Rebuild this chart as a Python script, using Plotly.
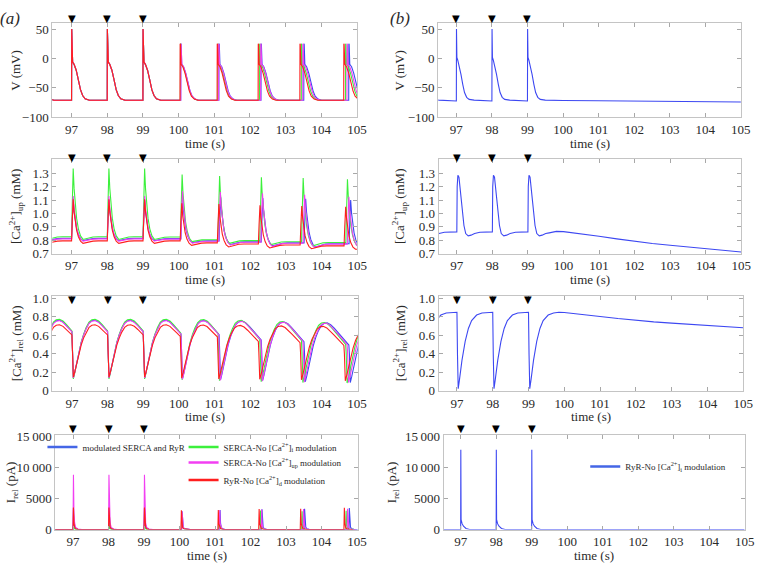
import numpy as np
import plotly.graph_objects as go

W, H = 766, 570
FONT = "Liberation Serif, Times New Roman, Times, serif"

# ---------------- values ----------------
X_TICKS = [97, 98, 99, 100, 101, 102, 103, 104, 105]
STIM_TIMES = [97.0, 98.0, 99.0]
V_TICKS = [-100, -50, 0, 50]
V_TICKTEXT = ["\u2212100", "\u221250", "0", "50"]
CAUP_TICKS = [0.7, 0.8, 0.9, 1.0, 1.1, 1.2, 1.3]
CAUP_TICKTEXT = ["0.7", "0.8", "0.9", "1.0", "1.1", "1.2", "1.3"]
CAREL_TICKS = [0, 0.2, 0.4, 0.6, 0.8, 1.0]
CAREL_TICKTEXT = ["0", "0.2", "0.4", "0.6", "0.8", "1.0"]
IREL_TICKS = [0, 5000, 10000, 15000]
IREL_TICKTEXT = ["0", "5000", "10\u2009000", "15\u2009000"]

SERIES_NAMES = [
    "modulated SERCA and RyR",
    "SERCA-No [Ca<sup>2+</sup>]<sub>i</sub> modulation",
    "SERCA-No [Ca<sup>2+</sup>]<sub>up</sub> modulation",
    "RyR-No [Ca<sup>2+</sup>]<sub>d</sub> modulation",
]
B_SERIES_NAME = "RyR-No [Ca<sup>2+</sup>]<sub>i</sub> modulation"

# (a) beat onsets (s): 4 paced beats (96 s lies just left of the window) + 5 spontaneous
ONSET_BLUE = [96.0, 97.0, 98.0, 99.0, 100.06, 101.13, 102.31, 103.51, 104.77]
ONSET_GREEN = [96.0, 97.0, 98.0, 99.0, 100.05, 101.10, 102.27, 103.44, 104.68]
ONSET_MAGENTA = [96.0, 97.0, 98.0, 99.0, 100.06, 101.12, 102.30, 103.48, 104.72]
ONSET_RED = [96.0, 97.0, 98.0, 99.0, 100.04, 101.08, 102.23, 103.40, 104.63]
N_PACED = 4

# (a) membrane potential waveform (mV) after each onset
V_PACED_DT = [0.004, 0.03, 0.07, 0.13, 0.19, 0.25, 0.31, 0.38, 0.5]
V_PACED_MV = [50, -6, -10, -20, -36, -53, -63, -68.5, -71.0]
V_SPONT_DT = [0.004, 0.012, 0.03, 0.08, 0.14, 0.2, 0.26, 0.32, 0.4, 0.5]
V_SPONT_MV = [25, 24, -10, -14, -25, -40, -55, -64, -69, -71.0]

# (a) [Ca2+]up (mM): pre-beat level, peak and trough of every beat
CAUP_BASE_BLUE = [0.814, 0.814, 0.814, 0.814, 0.812, 0.795, 0.788, 0.780, 0.774]
CAUP_PEAK_BLUE = [1.10, 1.10, 1.10, 1.10, 1.12, 1.12, 1.115, 1.11, 1.10]
CAUP_TROUGH_BLUE = [0.797, 0.797, 0.797, 0.797, 0.782, 0.768, 0.758, 0.750, 0.750]
CAUP_BASE_GREEN = [0.826, 0.826, 0.826, 0.826, 0.824, 0.804, 0.797, 0.789, 0.783]
CAUP_PEAK_GREEN = [1.335, 1.335, 1.335, 1.335, 1.29, 1.28, 1.27, 1.265, 1.255]
CAUP_TROUGH_GREEN = [0.806, 0.806, 0.806, 0.806, 0.790, 0.777, 0.767, 0.758, 0.760]
CAUP_BASE_MAGENTA = [0.810, 0.810, 0.810, 0.810, 0.808, 0.792, 0.785, 0.777, 0.771]
CAUP_PEAK_MAGENTA = [1.13, 1.13, 1.13, 1.13, 1.165, 1.16, 1.15, 1.14, 1.125]
CAUP_TROUGH_MAGENTA = [0.794, 0.794, 0.794, 0.794, 0.779, 0.765, 0.755, 0.747, 0.748]
CAUP_BASE_RED = [0.795, 0.795, 0.795, 0.795, 0.795, 0.780, 0.772, 0.764, 0.758]
CAUP_PEAK_RED = [1.105, 1.105, 1.105, 1.105, 1.075, 1.07, 1.06, 1.055, 1.05]
CAUP_TROUGH_RED = [0.777, 0.777, 0.777, 0.777, 0.762, 0.750, 0.742, 0.737, 0.733]
CAUP_RISE_DT = [0.02, 0.045]
CAUP_RISE_F = [0.5, 1.0]
CAUP_DECAY_DT = [0.07, 0.1, 0.14, 0.19, 0.25, 0.32]
CAUP_DECAY_F = [0.72, 0.5, 0.3, 0.15, 0.05, 0.0]
CAUP_RECOV_DT = [0.45, 0.6, 0.75]
CAUP_RECOV_F = [0.5, 0.9, 1.0]

# (a) [Ca2+]rel (mM): dome top and minimum of every beat
CAREL_TOP_BLUE = [0.765, 0.765, 0.765, 0.765, 0.762, 0.755, 0.745, 0.735, 0.725]
CAREL_MIN_BLUE = [0.14, 0.14, 0.14, 0.14, 0.13, 0.12, 0.11, 0.10, 0.09]
CAREL_TOP_GREEN = [0.775, 0.775, 0.775, 0.775, 0.772, 0.762, 0.75, 0.74, 0.73]
CAREL_MIN_GREEN = [0.13, 0.13, 0.13, 0.13, 0.12, 0.11, 0.10, 0.09, 0.085]
CAREL_TOP_MAGENTA = [0.76, 0.76, 0.76, 0.76, 0.758, 0.752, 0.742, 0.733, 0.723]
CAREL_MIN_MAGENTA = [0.14, 0.14, 0.14, 0.14, 0.125, 0.115, 0.105, 0.095, 0.09]
CAREL_TOP_RED = [0.715, 0.715, 0.715, 0.715, 0.713, 0.708, 0.703, 0.698, 0.693]
CAREL_MIN_RED = [0.15, 0.15, 0.15, 0.15, 0.14, 0.13, 0.125, 0.12, 0.11]
CAREL_DT = [0.015, 0.04, 0.08, 0.13, 0.19, 0.26, 0.33, 0.4, 0.48, 0.56, 0.65,
            0.75, 0.85, 0.95, 1.05, 1.15, 1.25, 1.35]
CAREL_F = [0.5, 0.0, 0.1, 0.26, 0.44, 0.61, 0.75, 0.86, 0.95, 0.99, 1.0,
           0.97, 0.91, 0.84, 0.77, 0.7, 0.63, 0.56]

# (a) Irel (pA): spike peak of every beat
IREL_PEAK_BLUE = [3400, 3400, 3400, 3400, 2950, 3150, 3250, 3350, 3450]
IREL_PEAK_GREEN = [750, 750, 750, 750, 2800, 2900, 3050, 2950, 3000]
IREL_PEAK_MAGENTA = [8800, 8800, 8800, 8800, 2900, 3100, 3200, 3300, 3350]
IREL_PEAK_RED = [3550, 3550, 3550, 3550, 3080, 3150, 3280, 3350, 3500]
IREL_DT = [0.0, 0.012, 0.026, 0.045, 0.075, 0.14, 0.25]
IREL_F = [0.0, 1.0, 0.3, 0.12, 0.04, 0.01, 0.0]

# (b) single series, paced beats only
ONSET_B = [96.0, 97.0, 98.0, 99.0]
V_B_DT = [0.004, 0.015, 0.04, 0.08, 0.13, 0.18, 0.23, 0.29, 0.36, 0.5, 0.75, 0.99]
V_B_MV = [50, 2, -3, -13, -27, -44, -58, -66, -69.5, -70.8, -71.6, -72.2]
V_B_TAIL_T = [100.0, 101.0, 102.0, 103.0, 104.0, 105.0]
V_B_TAIL_MV = [-71.3, -71.9, -72.5, -73.0, -73.5, -74.0]
CAUP_B_DT = [0.01, 0.03, 0.06, 0.1, 0.15, 0.2, 0.25, 0.32, 0.4, 0.5, 0.65, 0.8]
CAUP_B_MM = [1.2, 1.285, 1.27, 1.17, 1.04, 0.91, 0.85, 0.833, 0.838, 0.85, 0.86, 0.862]
CAUP_B_TAIL_T = [99.6, 99.8, 100.0, 100.5, 101.0, 101.5, 102.0, 102.5, 103.0,
                 103.5, 104.0, 104.5, 105.0]
CAUP_B_TAIL_MM = [0.855, 0.866, 0.864, 0.848, 0.83, 0.81, 0.792, 0.776, 0.762,
                  0.749, 0.737, 0.724, 0.712]
CAREL_B_DT = [0.015, 0.035, 0.07, 0.14, 0.23, 0.32, 0.41, 0.55, 0.7, 0.85]
CAREL_B_MM = [0.4, 0.025, 0.12, 0.33, 0.535, 0.675, 0.76, 0.82, 0.843, 0.85]
CAREL_B_TAIL_T = [99.7, 99.85, 100.0, 100.5, 101.0, 101.5, 102.0, 102.5, 103.0,
                  103.5, 104.0, 104.5, 105.0]
CAREL_B_TAIL_MM = [0.843, 0.85, 0.848, 0.83, 0.805, 0.782, 0.762, 0.746, 0.733,
                   0.72, 0.708, 0.695, 0.682]
IREL_B_DT = [0.0, 0.004, 0.012, 0.04, 0.08, 0.15, 0.25, 0.4]
IREL_B_PA = [0, 12800, 1600, 950, 550, 180, 20, 0]
IREL_B_TAIL_T = [100.0, 105.0]
IREL_B_TAIL_PA = [0, 0]

# ---------------- styling ----------------
BLUE = "#3d48f2"
GREEN = "#3cf03c"
MAGENTA = "#f23ff2"
RED = "#ff1e1e"
LEGEND_BLUE = "#4466e6"
FRAME = "#c4c4c4"
TXT = "#2a2a2a"
T_END_DRAW = 105.8


def build(onsets, shape_fn):
    xs, ys = [], []
    for i, t0 in enumerate(onsets):
        dts, vals = shape_fn(i)
        lim = (onsets[i + 1] - t0) if i + 1 < len(onsets) else (T_END_DRAW - t0)
        for d, v in zip(dts, vals):
            if d < lim:
                xs.append(t0 + d)
                ys.append(v)
        if i + 1 < len(onsets):
            xs.append(onsets[i + 1])
            ys.append(float(np.interp(lim, dts, vals)))
    return xs, ys


def v_shape_a(i):
    return (V_PACED_DT, V_PACED_MV) if i < N_PACED else (V_SPONT_DT, V_SPONT_MV)


def caup_shape(base, peak, trough):
    def fn(i):
        b0, pk, tr = base[i], peak[i], trough[i]
        b1 = base[i + 1] if i + 1 < len(base) else tr
        dts = CAUP_RISE_DT + CAUP_DECAY_DT + CAUP_RECOV_DT
        vals = ([b0 + f * (pk - b0) for f in CAUP_RISE_F]
                + [tr + f * (pk - tr) for f in CAUP_DECAY_F]
                + [tr + g * (b1 - tr) for g in CAUP_RECOV_F])
        return dts, vals
    return fn


def carel_shape(top, mn):
    def fn(i):
        return CAREL_DT, [mn[i] + f * (top[i] - mn[i]) for f in CAREL_F]
    return fn


def irel_shape(peak):
    def fn(i):
        return IREL_DT, [peak[i] * f for f in IREL_F]
    return fn


def b_shape(dts, vals, tail_t, tail_v):
    def fn(i):
        if i < len(ONSET_B) - 1:
            return dts, vals
        t0 = ONSET_B[i]
        cut = tail_t[0] - t0
        d2 = [d for d in dts if d < cut] + [t - t0 for t in tail_t]
        v2 = [v for d, v in zip(dts, vals) if d < cut] + list(tail_v)
        return d2, v2
    return fn


SERIES_A = [
    (BLUE, ONSET_BLUE, CAUP_BASE_BLUE, CAUP_PEAK_BLUE, CAUP_TROUGH_BLUE,
     CAREL_TOP_BLUE, CAREL_MIN_BLUE, IREL_PEAK_BLUE),
    (GREEN, ONSET_GREEN, CAUP_BASE_GREEN, CAUP_PEAK_GREEN, CAUP_TROUGH_GREEN,
     CAREL_TOP_GREEN, CAREL_MIN_GREEN, IREL_PEAK_GREEN),
    (MAGENTA, ONSET_MAGENTA, CAUP_BASE_MAGENTA, CAUP_PEAK_MAGENTA, CAUP_TROUGH_MAGENTA,
     CAREL_TOP_MAGENTA, CAREL_MIN_MAGENTA, IREL_PEAK_MAGENTA),
    (RED, ONSET_RED, CAUP_BASE_RED, CAUP_PEAK_RED, CAUP_TROUGH_RED,
     CAREL_TOP_RED, CAREL_MIN_RED, IREL_PEAK_RED),
]

fig = go.Figure()
LW = 1.1


def add_line(xy, color, ax):
    x, y = xy
    fig.add_trace(go.Scatter(x=x, y=y, mode="lines", line=dict(color=color, width=LW),
                             xaxis="x" + ax, yaxis="y" + ax, showlegend=False,
                             hoverinfo="skip"))


for color, on, cb, cp, ct, rt, rm, ip in SERIES_A:
    add_line(build(on, v_shape_a), color, "")
    add_line(build(on, caup_shape(cb, cp, ct)), color, "2")
    add_line(build(on, carel_shape(rt, rm)), color, "3")
    add_line(build(on, irel_shape(ip)), color, "4")

add_line(build(ONSET_B, b_shape(V_B_DT, V_B_MV, V_B_TAIL_T, V_B_TAIL_MV)), BLUE, "5")
add_line(build(ONSET_B, b_shape(CAUP_B_DT, CAUP_B_MM, CAUP_B_TAIL_T, CAUP_B_TAIL_MM)), BLUE, "6")
add_line(build(ONSET_B, b_shape(CAREL_B_DT, CAREL_B_MM, CAREL_B_TAIL_T, CAREL_B_TAIL_MM)), BLUE, "7")
add_line(build(ONSET_B, b_shape(IREL_B_DT, IREL_B_PA, IREL_B_TAIL_T, IREL_B_TAIL_PA)), BLUE, "8")

# legend entries (one legend box per entry so each can sit where the reference has it)
LEG_COLORS = [LEGEND_BLUE, GREEN, MAGENTA, RED]
LEG_IDS = ["legend", "legend2", "legend3", "legend4"]
for name, c, lg in zip(SERIES_NAMES, LEG_COLORS, LEG_IDS):
    fig.add_trace(go.Scatter(x=[None], y=[None], mode="lines", name=name,
                             line=dict(color=c, width=2.5), xaxis="x4", yaxis="y4",
                             legend=lg, showlegend=True))
fig.add_trace(go.Scatter(x=[None], y=[None], mode="lines", name=B_SERIES_NAME,
                         line=dict(color=LEGEND_BLUE, width=2.5), xaxis="x8", yaxis="y8",
                         legend="legend5", showlegend=True))
LEG_IDS = LEG_IDS + ["legend5"]
# (x of legend box, y of entry centre) in px
LEG_POS = [(43, 448), (186, 448), (186, 464), (186, 482), (593, 468)]

# ---------------- layout ----------------
# (axis suffix, left, right, top, bottom px, x range, y range, ticks, ticktext, title, title x, tri y)
PANELS = [
    ("", 53, 362, 16, 113.3, [96.46, 105.01], [-100, 61], V_TICKS, V_TICKTEXT,
     "V (mV)", 16, 11.7),
    ("2", 53, 362, 156, 253.3, [96.46, 105.0], [0.7, 1.407], CAUP_TICKS, CAUP_TICKTEXT,
     "[Ca<sup>2+</sup>]<sub>up</sub> (mM)", 16, 154.5),
    ("3", 53, 362.5, 297, 394.3, [96.45, 105.02], [0, 1.024], CAREL_TICKS, CAREL_TICKTEXT,
     "[Ca<sup>2+</sup>]<sub>rel</sub> (mM)", 16, 300),
    ("4", 56, 362.5, 440, 536.7, [96.5, 105.02], [0, 15100], IREL_TICKS, IREL_TICKTEXT,
     "I<sub>rel</sub> (pA)", 12, 433.3),
    ("5", 444, 751, 16, 113.3, [96.49, 105.01], [-100, 61], V_TICKS, V_TICKTEXT,
     "V (mV)", 405, 11.7),
    ("6", 444.5, 751, 156, 253.3, [96.49, 105.0], [0.7, 1.407], CAUP_TICKS, CAUP_TICKTEXT,
     "[Ca<sup>2+</sup>]<sub>up</sub> (mM)", 405, 155),
    ("7", 444.5, 753, 297, 394.3, [96.49, 105.0], [0, 1.024], CAREL_TICKS, CAREL_TICKTEXT,
     "[Ca<sup>2+</sup>]<sub>rel</sub> (mM)", 405, 300.5),
    ("8", 449.5, 754.5, 440, 536.7, [96.52, 105.0], [0, 15100], IREL_TICKS, IREL_TICKTEXT,
     "I<sub>rel</sub> (pA)", 398, 433),
]

layout = dict(
    width=W, height=H, autosize=False,
    margin=dict(l=0, r=0, t=0, b=0),
    paper_bgcolor="white", plot_bgcolor="white",
    font=dict(family=FONT, size=13, color=TXT),
    hovermode=False,
)
for lg, (lx, ly) in zip(LEG_IDS, LEG_POS):
    layout[lg] = dict(x=lx / W, y=1 - (ly - 11) / H, xanchor="left", yanchor="top",
                      font=dict(family=FONT, size=9, color=TXT),
                      bgcolor="rgba(0,0,0,0)", itemwidth=30)

annotations = []
for suf, l, r, t, b, xr, yr, tv, tt, title, tx, tri_y in PANELS:
    axis_common = dict(showline=True, linecolor=FRAME, linewidth=1, mirror="ticks",
                       ticks="inside", ticklen=4, tickcolor="#a8a8a8", tickwidth=1,
                       showgrid=False, zeroline=False,
                       tickfont=dict(family=FONT, size=13, color=TXT))
    layout["xaxis" + suf] = dict(domain=[l / W, r / W], range=xr, anchor="y" + suf,
                                 tickvals=X_TICKS, ticktext=[str(v) for v in X_TICKS],
                                 **axis_common)
    layout["yaxis" + suf] = dict(domain=[1 - b / H, 1 - t / H], range=yr, anchor="x" + suf,
                                 tickvals=tv, ticktext=tt, **axis_common)
    annotations.append(dict(text=title, textangle=-90, xref="paper", yref="paper",
                            x=tx / W, y=1 - (t + b) / 2 / H, xanchor="center",
                            yanchor="middle", showarrow=False,
                            font=dict(family=FONT, size=13, color=TXT)))
    annotations.append(dict(text="time (s)", xref="paper", yref="paper",
                            x=(l + r) / 2 / W, y=1 - (b + 26.5) / H, xanchor="center",
                            yanchor="middle", showarrow=False,
                            font=dict(family=FONT, size=13, color=TXT)))
    for st in STIM_TIMES:
        annotations.append(dict(text="\u25bc", xref="x" + suf, yref="paper", x=st,
                                y=1 - tri_y / H, xanchor="center", yanchor="middle",
                                showarrow=False,
                                font=dict(family="DejaVu Sans", size=10, color="black")))

annotations.append(dict(text="<i>(a)</i>", xref="paper", yref="paper", x=10 / W,
                        y=1 - 12 / H, xanchor="center", yanchor="middle", showarrow=False,
                        font=dict(family=FONT, size=17, color=TXT)))
annotations.append(dict(text="<i>(b)</i>", xref="paper", yref="paper", x=405 / W,
                        y=1 - 12 / H, xanchor="center", yanchor="middle", showarrow=False,
                        font=dict(family=FONT, size=17, color=TXT)))
layout["annotations"] = annotations

fig.update_layout(**layout)
fig.write_html(
    "out.html",
    config={"displayModeBar": False},
    post_script="document.body.style.margin='0px';"
                "document.documentElement.style.overflow='hidden';"
                "document.body.style.overflow='hidden';",
)
